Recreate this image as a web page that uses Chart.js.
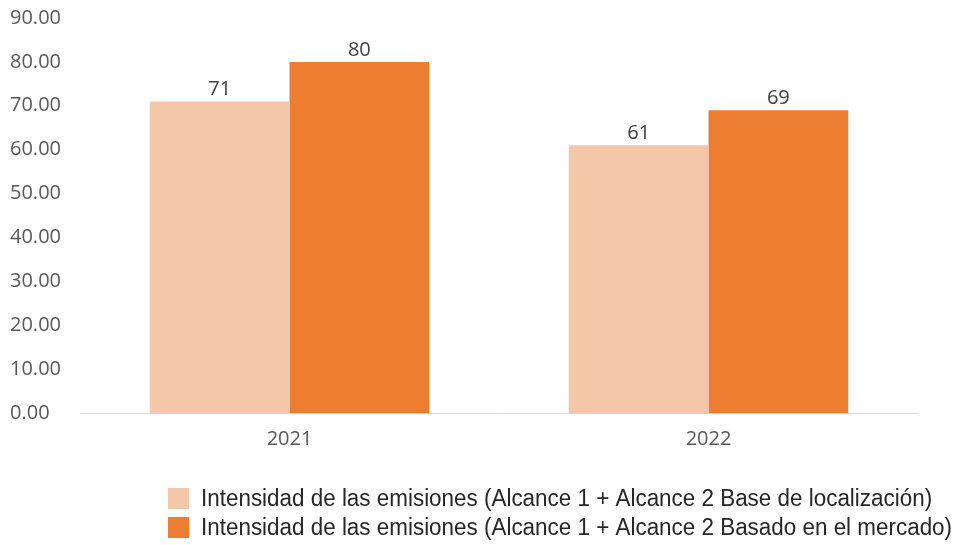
<!DOCTYPE html>
<html>
<head>
<meta charset="utf-8">
<script src="https://cdn.jsdelivr.net/npm/chart.js@4/dist/chart.umd.min.js"></script>
<style>
  html, body { margin: 0; padding: 0; background: #fff; }
  #wrap { width: 961px; height: 545px; position: relative; }
</style>
</head>
<body>
<div id="wrap"><canvas id="emisionesChart"></canvas></div>
<script>
const years = ['2021', '2022'];
const seriesNames = [
    'Intensidad de las emisiones (Alcance 1 + Alcance 2 Base de localización)',
    'Intensidad de las emisiones (Alcance 1 + Alcance 2 Basado en el mercado)'
];
const baseLocalizacion = [71, 61];
const basadoMercado = [80, 69];
const seriesColors = ['#F4C7A8', '#ED7D31'];

// value labels above each bar
const barValues = {
    id: 'barValues',
    afterDatasetsDraw(chart) {
        const ctx = chart.ctx;
        ctx.save();
        ctx.font = '20px "Open Sans", sans-serif';
        ctx.fillStyle = '#404040';
        ctx.textAlign = 'center';
        ctx.textBaseline = 'alphabetic';
        chart.data.datasets.forEach((ds, i) => {
            chart.getDatasetMeta(i).data.forEach((bar, j) => {
                ctx.fillText(String(ds.data[j]), bar.x, bar.y - 6);
            });
        });
        ctx.restore();
    }
};

// stacked legend under the plot, boxes lined up on the left
const stackedLegend = {
    id: 'stackedLegend',
    afterDraw(chart) {
        const ctx = chart.ctx;
        const left = 168, top = 499, rowH = 29, squeeze = 0.975;
        ctx.save();
        ctx.font = '23px "Liberation Sans", Arial, sans-serif';
        ctx.textBaseline = 'middle';
        ctx.textAlign = 'left';
        chart.data.datasets.forEach((ds, i) => {
            const y = top + i * rowH;
            ctx.fillStyle = ds.backgroundColor;
            ctx.fillRect(left, y - 11, 21, 21);
            ctx.save();
            ctx.translate(left + 33, y + 1);
            ctx.scale(squeeze, 1);
            ctx.fillStyle = '#262626';
            ctx.fillText(ds.label, 0, 0);
            ctx.restore();
        });
        ctx.restore();
    }
};

new Chart(document.getElementById('emisionesChart'), {
    type: 'bar',
    data: {
        labels: years,
        datasets: [
            { label: seriesNames[0], data: baseLocalizacion, backgroundColor: seriesColors[0] },
            { label: seriesNames[1], data: basadoMercado, backgroundColor: seriesColors[1] }
        ]
    },
    options: {
        responsive: true, maintainAspectRatio: false, animation: false,
        layout: { padding: { left: 10, right: 43, top: 18, bottom: 88 } },
        datasets: { bar: { categoryPercentage: 0.667, barPercentage: 1.0 } },
        plugins: { legend: { display: false }, tooltip: { enabled: false } },
        scales: {
            x: {
                grid: { display: false },
                border: { display: true, color: '#D9D9D9', width: 1 },
                ticks: { color: '#595959', font: { size: 20, family: 'Open Sans' }, padding: 6 }
            },
            y: {
                min: 0, max: 90,
                afterFit(axis) { axis.width = 70; },
                grid: { display: false },
                border: { display: false },
                ticks: {
                    stepSize: 10, crossAlign: 'far', padding: 0,
                    color: '#595959', font: { size: 20, family: 'Open Sans' },
                    callback: v => Number(v).toFixed(2)
                }
            }
        }
    },
    plugins: [barValues, stackedLegend]
});
</script>
</body>
</html>
